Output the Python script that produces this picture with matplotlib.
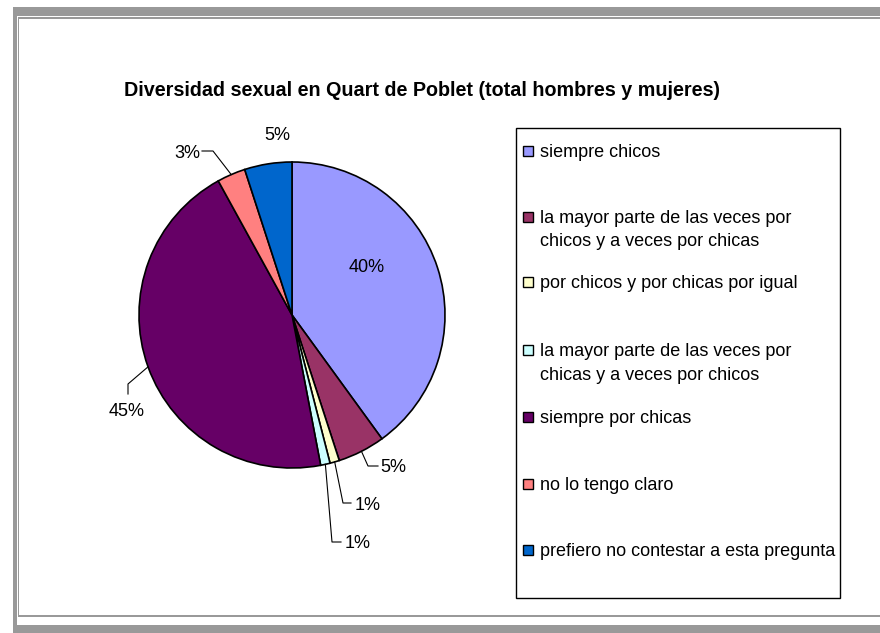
import matplotlib.pyplot as plt
import numpy as np
from matplotlib.patches import Rectangle

plt.rcParams['font.family'] = ['Liberation Sans', 'DejaVu Sans']

title = "Diversidad sexual en Quart de Poblet (total hombres y mujeres)"
categories = ["siempre chicos",
              "la mayor parte de las veces por\nchicos y a veces por chicas",
              "por chicos y por chicas por igual",
              "la mayor parte de las veces por\nchicas y a veces por chicos",
              "siempre por chicas",
              "no lo tengo claro",
              "prefiero no contestar a esta pregunta"]
values = [40, 5, 1, 1, 45, 3, 5]
colors = ['#9999FF', '#993366', '#FFFFCC', '#CCFFFF', '#660066', '#FF8080', '#0066CC']

W, H = 880, 633
fig = plt.figure(figsize=(W / 100, H / 100), dpi=100)
ax = fig.add_axes([0, 0, 1, 1])
ax.axis('off')

# outer frame
gray = '#999999'
ax.add_patch(Rectangle((13, 7), W, 8.5, color=gray, lw=0))
ax.add_patch(Rectangle((13, 7), 3.5, 626, color=gray, lw=0))
ax.add_patch(Rectangle((17.5, 17), W, 1.5, color=gray, lw=0))
ax.add_patch(Rectangle((17.5, 17), 1.5, 600, color=gray, lw=0))
ax.add_patch(Rectangle((17.5, 615), W, 1.5, color=gray, lw=0))
ax.add_patch(Rectangle((13, 625), W, 8, color=gray, lw=0))

ax.text(422, 91, title, ha='center', va='center', fontsize=14.2, fontweight='bold')

cx, cy, r = 292, 315, 153
wedges, _ = ax.pie(values, colors=colors, startangle=270, counterclock=True,
                   center=(cx, cy), radius=r,
                   wedgeprops=dict(edgecolor='black', linewidth=1.2))
ax.set_xlim(0, W)
ax.set_ylim(H, 0)
ax.set_aspect('auto')

fs = 13
dy = 2  # small vertical nudge for text centring
pct = ["%d%%" % v for v in values]
ax.text(367, 266 + dy, pct[0], ha='center', va='center', fontsize=fs)
ax.text(277, 134 + dy, pct[6], ha='center', va='center', fontsize=fs)

def anchor(w):
    a = np.deg2rad((w.theta1 + w.theta2) / 2)
    return cx + r * np.cos(a), cy + r * np.sin(a)

# leader elbows and label centres per wedge
leaders = {
    1: ([(368, 466), (378, 466)], (393, 466)),
    2: ([(343, 503), (351, 503)], (368, 504)),
    3: ([(332, 542), (341, 542)], (358, 542)),
    4: ([(128, 384), (128, 394)], (127, 410)),
    5: ([(213, 151), (202, 151)], (187, 151)),
}
for i, (pts, txt) in leaders.items():
    x0, y0 = anchor(wedges[i])
    xs = [x0] + [p[0] for p in pts]
    ys = [y0] + [p[1] for p in pts]
    ax.plot(xs, ys, color='black', lw=0.8)
    ax.text(txt[0], txt[1] + dy, pct[i], ha='center', va='center', fontsize=fs)

# legend box
ax.add_patch(Rectangle((516, 128), 324, 470, fill=False, edgecolor='black', lw=1))
leg_y = [151, 217, 282, 350, 417, 484, 550]
for y, lab, c in zip(leg_y, categories, colors):
    ax.add_patch(Rectangle((523, y - 5), 10, 10, facecolor=c, edgecolor='black', lw=1))
    ax.text(540, y - 7, lab, ha='left', va='top', fontsize=fs, linespacing=1.5)

fig.savefig('out.png', dpi=100)
